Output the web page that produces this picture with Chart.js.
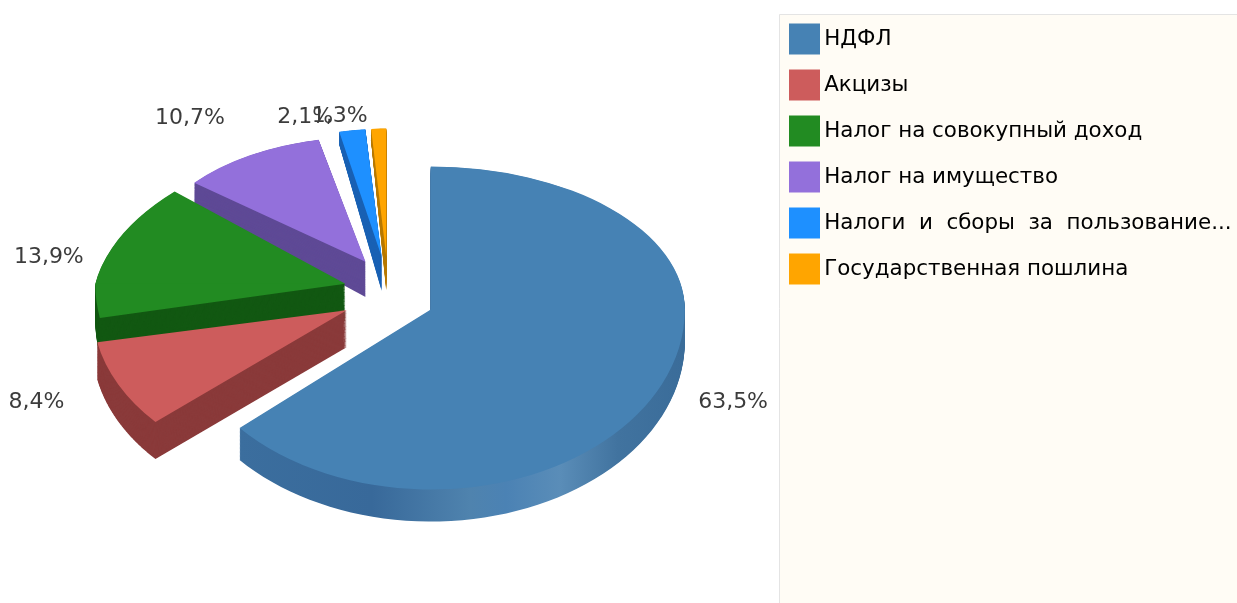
<!DOCTYPE html>
<html>
<head>
<meta charset="utf-8">
<title>Налоговые доходы</title>
<script src="https://cdn.jsdelivr.net/npm/chart.js@4/dist/chart.umd.min.js"></script>
<style>
html, body { margin: 0; padding: 0; background: #fff; overflow: hidden; }
#wrap { width: 1237px; height: 603px; }
</style>
</head>
<body>
<div id="wrap"><canvas id="pie"></canvas></div>
<script>
// Данные
const categories = ['НДФЛ', 'Акцизы', 'Налог на совокупный доход', 'Налог на имущество', 'Налоги  и  сборы  за  пользование...', 'Государственная пошлина'];
const shares = [63.5, 8.4, 13.9, 10.7, 2.1, 1.3];

// Оформление
const faceColors = ['#4682B4', '#CD5C5C', '#228B22', '#9370DB', '#1E90FF', '#FFA500'];
const sideColors = ['#3A6C99', '#8A3A3A', '#125812', '#5F4A96', '#1A62B4', '#B87A00'];
const explode = [47, 46, 44, 43, 43, 43];
const rimX = [254, 254, 250, 221, 200, 185];
const rimUp = [143, 143, 146, 125, 128, 128];
const rimDown = [180, 170, 180, 180, 180, 180];
const skewUp = [0, 0, 0.25, 0, 0, 0];
const labelShift = [[71, 18], [-82, 17], [-63, 9], [-60, -37], [-47, -13], [-39, -12]];
const centerY = 293, squash = 0.85;
const labelFont = '22px "DejaVu Sans"';

function sliceGeometry(arc, i) {
    const mid = (arc.startAngle + arc.endAngle) / 2;
    const ax = arc.x + Math.cos(mid) * explode[i];
    const ay = centerY + squash * (arc.y + Math.sin(mid) * explode[i] - centerY);
    const project = function(t) {
        const s = Math.sin(t);
        const dy = (s < 0 ? rimUp[i] : rimDown[i]) * s;
        return {
            x: ax + rimX[i] * Math.cos(t) + (s < 0 ? -skewUp[i] * dy : 0),
            y: ay + dy
        };
    };
    return { mid, ax, ay, project };
}

function drawSide(ctx, arc, i, g) {
    const pts = [{ x: g.ax, y: g.ay }];
    const steps = 90;
    for (let k = 0; k <= steps; k++) {
        pts.push(g.project(arc.startAngle + (arc.endAngle - arc.startAngle) * k / steps));
    }
    let fill = sideColors[i];
    if (i === 0) {
        // блик на боковой стенке
        const grad = ctx.createLinearGradient(238, 0, 685, 0);
        grad.addColorStop(0, '#3B6E9E');
        grad.addColorStop(0.3, '#38699A');
        grad.addColorStop(0.52, '#4F83AE');
        grad.addColorStop(0.6, '#4B82B4');
        grad.addColorStop(0.72, '#5A8DB8');
        grad.addColorStop(0.85, '#41739F');
        grad.addColorStop(1, '#3A6C99');
        fill = grad;
    }
    ctx.fillStyle = fill;
    const layers = 40;
    for (let n = layers; n >= 1; n--) {
        ctx.beginPath();
        pts.forEach(function(p, idx) {
            const depth = Math.min(i === 0 ? 32 : 37, 22 + (p.y - 185) * 0.17) * n / layers;
            if (idx === 0) ctx.moveTo(p.x, p.y + depth);
            else ctx.lineTo(p.x, p.y + depth);
        });
        ctx.closePath();
        ctx.fill();
    }
}

function drawFaceHalf(ctx, arc, g, i, upper) {
    const sx = rimX[i] / arc.outerRadius;
    const sy = (upper ? rimUp[i] : rimDown[i]) / arc.outerRadius;
    const k = upper ? skewUp[i] : 0;
    ctx.save();
    ctx.beginPath();
    if (upper) ctx.rect(0, 0, 1237, g.ay + 0.5);
    else ctx.rect(0, g.ay, 1237, 603 - g.ay);
    ctx.clip();
    ctx.transform(sx, 0, -k * sy, sy, g.ax - sx * arc.x + k * sy * arc.y, g.ay - sy * arc.y);
    arc.draw(ctx);
    ctx.restore();
}

const pie3d = {
    id: 'pie3d',
    afterLayout(chart) {
        // область круга и положение легенды
        chart.chartArea = { left: 0, top: 0, right: 776, bottom: 586, width: 776, height: 586 };
        chart.legend.left = 770.9;
        chart.legend.right = 1237;
        chart.legend.top = 3.7;
        chart.legend.bottom = 603;
    },
    beforeDraw(chart) {
        const ctx = chart.ctx;
        ctx.save();
        ctx.fillStyle = '#FFFCF5';
        ctx.fillRect(779, 14, 458, 589);
        ctx.strokeStyle = '#E4E4E4';
        ctx.lineWidth = 1;
        ctx.beginPath();
        ctx.moveTo(779.5, 603);
        ctx.lineTo(779.5, 14.5);
        ctx.lineTo(1237, 14.5);
        ctx.stroke();
        ctx.restore();
    },
    beforeDatasetsDraw(chart) {
        const ctx = chart.ctx;
        const arcs = chart.getDatasetMeta(0).data;
        for (let i = arcs.length - 1; i >= 0; i--) {
            const g = sliceGeometry(arcs[i], i);
            drawSide(ctx, arcs[i], i, g);
            drawFaceHalf(ctx, arcs[i], g, i, true);
            drawFaceHalf(ctx, arcs[i], g, i, false);
        }
        ctx.save();
        ctx.font = labelFont;
        ctx.fillStyle = '#3C3C3C';
        ctx.textAlign = 'center';
        ctx.textBaseline = 'middle';
        arcs.forEach(function(arc, i) {
            const g = sliceGeometry(arc, i);
            const p = g.project(g.mid);
            const text = shares[i].toFixed(1).replace('.', ',') + '%';
            ctx.fillText(text, p.x + labelShift[i][0], p.y + labelShift[i][1]);
        });
        ctx.restore();
        return false;
    }
};

new Chart(document.getElementById('pie'), {
    type: 'pie',
    data: {
        labels: categories,
        datasets: [{
            data: shares,
            backgroundColor: faceColors,
            borderWidth: 0
        }]
    },
    options: {
        responsive: true,
        maintainAspectRatio: false,
        animation: false,
        radius: 250,
        plugins: {
            tooltip: { enabled: false },
            legend: {
                position: 'right',
                align: 'start',
                labels: {
                    font: { family: 'DejaVu Sans', size: 21.4 },
                    color: '#2E2E2E',
                    boxWidth: 18,
                    boxHeight: 18,
                    padding: 24.6,
                    generateLabels: function() {
                        return categories.map(function(name, i) {
                            return { text: name, fillStyle: faceColors[i], strokeStyle: faceColors[i], lineWidth: 13, index: i };
                        });
                    }
                }
            }
        }
    },
    plugins: [pie3d]
});
</script>
</body>
</html>
